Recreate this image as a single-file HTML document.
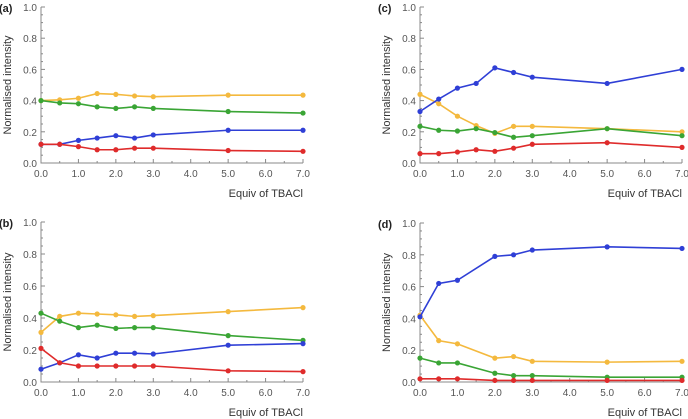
<!DOCTYPE html>
<html><head><meta charset="utf-8"><style>
body{margin:0;background:#fff;}
svg{display:block;font-family:"Liberation Sans",sans-serif;}
</style></head><body>
<svg id="c" width="688" height="419" viewBox="0 0 688 419"></svg>
<script>
const xA = [0,0.5,1,1.5,2,2.5,3,5,7];
const xD = [0,0.5,1,2,2.5,3,5,7];
const aYellow=[.40,.405,.415,.445,.44,.43,.425,.435,.435];
const aGreen=[.40,.385,.38,.36,.35,.36,.35,.33,.32];
const aBlue=[.12,.12,.145,.16,.175,.16,.18,.21,.21];
const aRed=[.12,.12,.105,.085,.085,.095,.095,.08,.075];
const bYellow=[.31,.41,.43,.425,.42,.41,.415,.44,.465];
const bGreen=[.43,.38,.34,.355,.335,.34,.34,.29,.26];
const bBlue=[.08,.12,.17,.15,.18,.18,.175,.23,.24];
const bRed=[.21,.12,.10,.10,.10,.10,.10,.07,.065];
const cBlue=[.33,.41,.48,.51,.61,.58,.55,.51,.60];
const cYellow=[.44,.38,.30,.24,.19,.235,.235,.22,.20];
const cGreen=[.235,.21,.205,.22,.195,.165,.175,.22,.175];
const cRed=[.06,.06,.07,.085,.075,.095,.12,.13,.10];
const dBlue=[.41,.62,.64,.79,.80,.83,.85,.84];
const dYellow=[.42,.26,.24,.15,.16,.13,.125,.13];
const dGreen=[.15,.12,.12,.055,.04,.04,.03,.03];
const dRed=[.02,.02,.02,.01,.01,.01,.01,.01];
const yTicks=["0.0","0.2","0.4","0.6","0.8","1.0"];
const xTicks=["0.0","1.0","2.0","3.0","4.0","5.0","6.0","7.0"];
const COL={yellow:"#f4b93e",green:"#3aa535",blue:"#2f3fd6",red:"#df2b2b"};
const svg=document.getElementById('c');
const NS="http://www.w3.org/2000/svg";
function mk(t,a,p){const e=document.createElementNS(NS,t);for(const k in a)e.setAttribute(k,a[k]);(p||svg).appendChild(e);return e;}
function panel(label,x0,x1,y0,y1,xs,series,name){
  const g=mk('g',{});
  
  
  const sx=v=>x0+(x1-x0)*v/7, sy=v=>y0-(y0-y1)*v;
  const ax=mk('path',{d:`M${x0},${y1} V${y0} H${x1}`,stroke:'#888',fill:'none','stroke-width':1},g);
  
  for(let i=0;i<=20;i++){const y=sy(i*0.05);mk('line',{x1:x0,x2:x0+(i%4==0?4:2),y1:y,y2:y,stroke:'#888'},g);}
  for(let i=0;i<=14;i++){const x=sx(i*0.5);mk('line',{x1:x,x2:x,y1:y0,y2:y0-(i%2==0?4:2),stroke:'#888'},g);}
  yTicks.forEach((t,i)=>{const e=mk('text',{x:x0-4,y:sy(i*0.2)+4,'text-anchor':'end','font-size':10,fill:'#555'},g);e.textContent=t;});
  xTicks.forEach((t,i)=>{const e=mk('text',{x:sx(i),y:y0+14,'text-anchor':'middle','font-size':10,fill:'#555'},g);e.textContent=t;});
  const yt=mk('text',{x:0,y:0,transform:`translate(${x0-30},${(y0+y1)/2}) rotate(-90)`,'text-anchor':'middle','font-size':11,fill:'#333'},g);
  yt.textContent='Normalised intensity';
  const xt=mk('text',{x:x1,y:y0+34,'text-anchor':'end','font-size':11,fill:'#333'},g);
  xt.textContent='Equiv of TBACl';
  const pl=mk('text',{x:x0-42,y:y1+5,'font-size':11,'font-weight':'bold',fill:'#222'},g);
  pl.textContent=label;
  series.forEach(([col,vals])=>{
    const pts=vals.map((v,i)=>sx(xs[i])+','+sy(v)).join(' ');
    const l=mk('polyline',{points:pts,fill:'none',stroke:COL[col],'stroke-width':1.6},g);
    
    vals.forEach((v,i)=>{const c=mk('circle',{cx:sx(xs[i]),cy:sy(v),r:2.6,fill:COL[col]},g);
      });
  });
}
panel('(a)',41,303,163,7,xA,[['yellow',aYellow],['green',aGreen],['blue',aBlue],['red',aRed]],'panel-a');
panel('(b)',41,303,382,222,xA,[['yellow',bYellow],['green',bGreen],['blue',bBlue],['red',bRed]],'panel-b');
panel('(c)',420,682,163,7,xA,[['yellow',cYellow],['green',cGreen],['blue',cBlue],['red',cRed]],'panel-c');
panel('(d)',420,682,382,223,xD,[['yellow',dYellow],['green',dGreen],['blue',dBlue],['red',dRed]],'panel-d');
</script>
</body></html>
